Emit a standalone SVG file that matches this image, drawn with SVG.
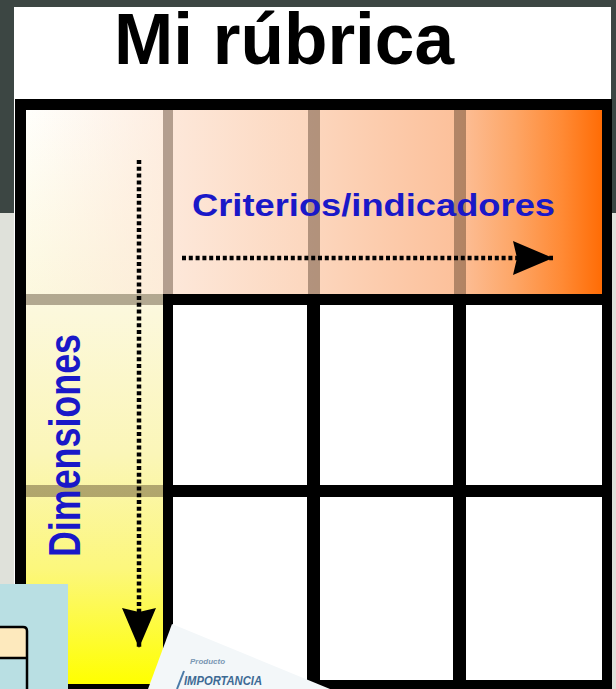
<svg xmlns="http://www.w3.org/2000/svg" width="616" height="689" viewBox="0 0 616 689">
<style>
.title{font-family:"Liberation Sans",Arial,sans-serif;font-weight:bold;fill:#000}
.lbl{font-family:"Liberation Sans",Arial,sans-serif;font-weight:bold;fill:#1a18c8}
.cell{fill:#fff}
.band{fill:#3a2412;opacity:.38}
.dots{fill:none;stroke:#000;stroke-width:4.5;stroke-dasharray:4 2.8}
</style>
<defs>
<linearGradient id="gHead" gradientUnits="userSpaceOnUse" x1="26" y1="0" x2="602" y2="0">
<stop offset="0" stop-color="#ffffff"/>
<stop offset="0.25" stop-color="#fde8da"/>
<stop offset="0.5" stop-color="#fcd6bd"/>
<stop offset="0.75" stop-color="#fcc09a"/>
<stop offset="0.85" stop-color="#fda565"/>
<stop offset="0.93" stop-color="#ff8a35"/>
<stop offset="1" stop-color="#ff6c05"/>
</linearGradient>
<linearGradient id="gDim" gradientUnits="userSpaceOnUse" x1="0" y1="110" x2="0" y2="684">
<stop offset="0" stop-color="#fffffc"/>
<stop offset="0.35" stop-color="#fcf8dc"/>
<stop offset="0.6" stop-color="#fbf6b8"/>
<stop offset="0.8" stop-color="#fcf77c"/>
<stop offset="1" stop-color="#ffff00"/>
</linearGradient>
<linearGradient id="gTL" gradientUnits="userSpaceOnUse" x1="26" y1="0" x2="163" y2="0">
<stop offset="0" stop-color="#fde6d6" stop-opacity="0"/>
<stop offset="1" stop-color="#fde6d6" stop-opacity="0.7"/>
</linearGradient>
<marker id="ah" markerUnits="userSpaceOnUse" markerWidth="40" markerHeight="34" refX="40" refY="17" orient="auto" viewBox="0 0 40 34">
<path d="M0,0 L40,17 L0,34 L4,17 z" fill="#000"/>
</marker>
</defs>

<g id="background">
<rect x="0" y="0" width="616" height="689" fill="#dfe1da"/>
<rect x="0" y="0" width="616" height="213" fill="#3c4643"/>
<rect x="14" y="7" width="597" height="682" fill="#fff"/>
</g>

<g id="title">
<text class="title" x="114" y="64" font-size="72" textLength="340" lengthAdjust="spacingAndGlyphs">Mi rúbrica</text>
</g>

<g id="frame">
<rect x="15" y="99" width="597" height="590" fill="#000"/>
</g>

<g id="header-row">
<rect x="26" y="110" width="576" height="184" fill="url(#gHead)"/>
<rect class="band" x="163" y="110" width="10" height="184"/>
<rect class="band" x="308" y="110" width="12" height="184"/>
<rect class="band" x="454" y="110" width="12" height="184"/>
<text class="lbl" x="192" y="216" font-size="32" textLength="363" lengthAdjust="spacingAndGlyphs">Criterios/indicadores</text>
</g>

<g id="dimension-column">
<rect x="26" y="110" width="137" height="574" fill="url(#gDim)"/>
<rect x="26" y="110" width="137" height="184" fill="url(#gTL)"/>
<rect class="band" x="26" y="294" width="137" height="11"/>
<rect class="band" x="26" y="485" width="137" height="12"/>
<text class="lbl" transform="translate(80,557) rotate(-90)" x="0" y="0" font-size="45" textLength="223" lengthAdjust="spacingAndGlyphs">Dimensiones</text>
</g>

<g id="cells">
<rect class="cell" x="173" y="305" width="134" height="180"/>
<rect class="cell" x="320" y="305" width="133" height="180"/>
<rect class="cell" x="466" y="305" width="136" height="180"/>
<rect class="cell" x="173" y="497" width="134" height="183"/>
<rect class="cell" x="320" y="497" width="133" height="183"/>
<rect class="cell" x="466" y="497" width="136" height="183"/>
</g>

<g id="connectors">
<path class="dots" d="M139,160 V648" marker-end="url(#ah)"/>
<path class="dots" d="M182,258 H553" marker-end="url(#ah)"/>
</g>

<g id="corner-box">
<rect x="0" y="584" width="68" height="105" fill="#b9dfe3"/>
<rect x="0" y="627" width="26" height="31" fill="#fde9bd"/>
<path d="M0,627 H23 Q27,627 27,631 V689 M0,658 H27" fill="none" stroke="#000" stroke-width="2.5"/>
</g>

<g id="card">
<polygon points="148,689 172,624 330,689" fill="#f3f7f9"/>
<path d="M177,689 L184,671" stroke="#4a7aa8" stroke-width="2" fill="none"/>
<text x="190" y="664" font-family="Liberation Sans, Arial, sans-serif" font-size="8" font-weight="bold" font-style="italic" fill="#7a98b4">Producto</text>
<text x="184" y="685" font-family="Liberation Sans, Arial, sans-serif" font-size="12" font-weight="bold" font-style="italic" fill="#3d6a94" textLength="78" lengthAdjust="spacingAndGlyphs">IMPORTANCIA</text>
</g>
</svg>
